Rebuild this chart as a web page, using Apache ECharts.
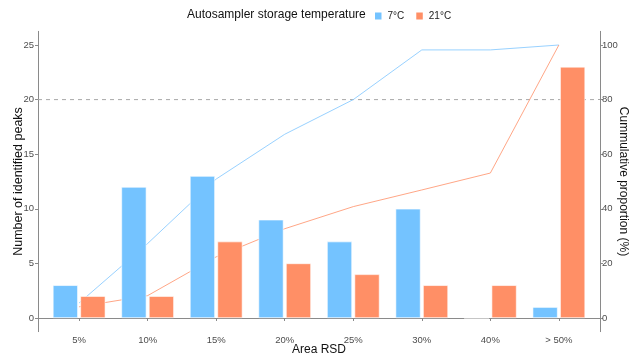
<!DOCTYPE html>
<html>
<head>
<meta charset="utf-8">
<script src="https://cdn.jsdelivr.net/npm/echarts@6/dist/echarts.min.js"></script>
<style>
  html, body { margin: 0; padding: 0; background: #fff; }
  #chart { width: 630px; height: 356px; }
</style>
</head>
<body>
<div id="chart"></div>
<script>
// Area RSD bins
const categories = ['5%', '10%', '15%', '20%', '25%', '30%', '40%', '> 50%'];
// Number of identified peaks per bin
const peaks7C = [3, 12, 13, 9, 7, 10, 0, 1];
const peaks21C = [2, 2, 7, 5, 4, 3, 3, 23];
// Cumulative proportion (%) per bin
const cum7C = [5.5, 27.3, 50.9, 67.3, 80.0, 98.2, 98.2, 100];
const cum21C = [4.1, 8.2, 22.4, 32.7, 40.8, 46.9, 53.1, 100];
// Reference level on the peak-count axis
const thresholdPeaks = [20, 20];
// Axis tick labels
const leftTicks = [0, 5, 10, 15, 20, 25];
const rightTicks = [0, 20, 40, 60, 80, 100];

const BLUE = '#74C3FF';
const ORANGE = '#FF8F66';
const AXIS = '#8a8a8a';
const FONT = 'Liberation Sans, Arial, sans-serif';

const chart = echarts.init(document.getElementById('chart'), null, { renderer: 'canvas' });

const hiddenAxis = { show: false };

chart.setOption({
  animation: false,
  textStyle: { fontFamily: FONT },
  title: {
    text: 'Autosampler storage temperature',
    left: 187, top: 9, padding: 0,
    textStyle: { fontSize: 12, fontWeight: 'normal', color: '#111', fontFamily: FONT }
  },
  legend: {
    data: ['7°C', '21°C'],
    left: 373, top: 10.5, padding: 0,
    icon: 'rect', itemWidth: 8.5, itemHeight: 9, itemGap: 10,
    textStyle: { fontSize: 10, color: '#222', fontFamily: FONT }
  },
  grid: [
    // panel frame
    { left: 38, right: 30, top: 31.35, bottom: 24.35, outerBoundsMode: 'none', containLabel: false },
    // category bands (inset by the discrete-axis padding)
    { left: 44.85, right: 36.85, top: 31.35, bottom: 24.35, outerBoundsMode: 'none', containLabel: false }
  ],
  xAxis: [
    {
      gridIndex: 0, type: 'value', min: 0, max: 1,
      axisLine: { show: true, lineStyle: { color: AXIS, width: 1 } },
      axisTick: { show: false }, axisLabel: { show: false }, splitLine: { show: false }
    },
    {
      gridIndex: 1, type: 'category', data: categories,
      name: 'Area RSD', nameLocation: 'middle', nameGap: 12.5, nameMoveOverlap: false,
      nameTextStyle: { fontSize: 12, color: '#111', fontFamily: FONT },
      axisLine: { show: false },
      axisTick: { show: true, alignWithLabel: true, length: 3, lineStyle: { color: AXIS } },
      axisLabel: { fontSize: 9.5, color: '#4d4d4d', margin: 4, fontFamily: FONT },
      splitLine: { show: false }
    }
  ],
  yAxis: [
    {
      gridIndex: 0, type: 'value', position: 'left', min: -1.25, max: 26.25,
      name: 'Number of identified peaks', nameLocation: 'middle', nameGap: 13, nameMoveOverlap: false,
      nameTextStyle: { fontSize: 12.5, color: '#111', fontFamily: FONT },
      axisLine: { show: true, lineStyle: { color: AXIS, width: 1 } },
      axisTick: { show: true, length: 3, customValues: leftTicks, lineStyle: { color: AXIS } },
      axisLabel: { customValues: leftTicks, fontSize: 9.5, color: '#4d4d4d', margin: 4, fontFamily: FONT },
      splitLine: { show: false }
    },
    {
      gridIndex: 0, type: 'value', position: 'right', min: -5, max: 105,
      name: 'Cummulative proportion (%)', nameLocation: 'middle', nameGap: 17, nameRotate: -90,
      nameMoveOverlap: false,
      nameTextStyle: { fontSize: 12, color: '#111', fontFamily: FONT },
      axisLine: { show: true, lineStyle: { color: AXIS, width: 1 } },
      axisTick: { show: true, length: 3, customValues: rightTicks, lineStyle: { color: AXIS } },
      axisLabel: { customValues: rightTicks, fontSize: 9.5, color: '#4d4d4d', margin: 2, fontFamily: FONT },
      splitLine: { show: false }
    },
    Object.assign({ gridIndex: 1, type: 'value', min: -1.25, max: 26.25 }, hiddenAxis),
    Object.assign({ gridIndex: 1, type: 'value', min: -5, max: 105 }, hiddenAxis)
  ],
  series: [
    {
      name: 'threshold', type: 'line', xAxisIndex: 0, yAxisIndex: 0,
      data: [[0, thresholdPeaks[0]], [1, thresholdPeaks[1]]],
      showSymbol: false, silent: true, z: 1,
      lineStyle: { color: '#a8a8a8', width: 1, type: [4, 4] }
    },
    {
      name: 'cum7', type: 'line', xAxisIndex: 1, yAxisIndex: 3, data: cum7C,
      showSymbol: false, z: 2,
      lineStyle: { color: '#8cccff', width: 0.9 }
    },
    {
      name: 'cum21', type: 'line', xAxisIndex: 1, yAxisIndex: 3, data: cum21C,
      showSymbol: false, z: 2,
      lineStyle: { color: '#ff9c78', width: 0.9 }
    },
    {
      name: '7°C', type: 'bar', xAxisIndex: 1, yAxisIndex: 2, data: peaks7C,
      barWidth: 25, barGap: '10%', z: 3,
      itemStyle: { color: BLUE, borderColor: '#ffffff', borderWidth: 0.6 }
    },
    {
      name: '21°C', type: 'bar', xAxisIndex: 1, yAxisIndex: 2, data: peaks21C,
      barWidth: 25, barGap: '10%', z: 3,
      itemStyle: { color: ORANGE, borderColor: '#ffffff', borderWidth: 0.6 }
    }
  ]
});
</script>
</body>
</html>
